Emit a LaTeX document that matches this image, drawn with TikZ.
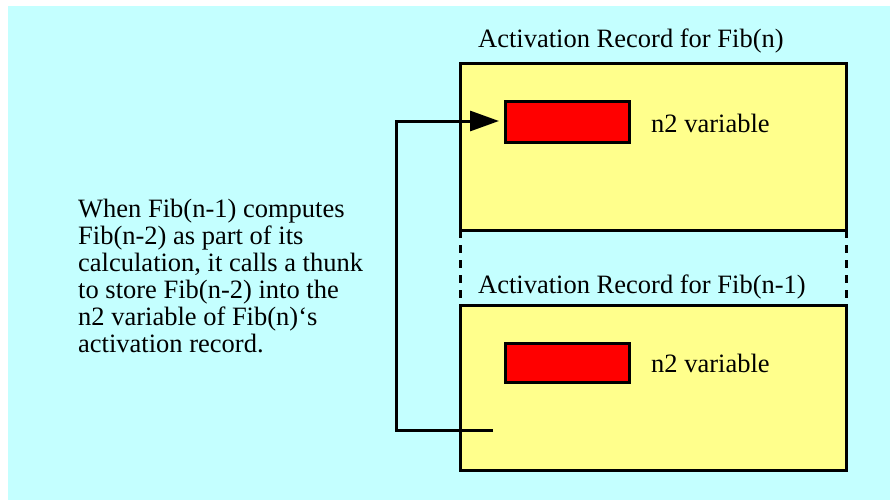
\documentclass[tikz,border=0pt]{standalone}
\usepackage{fontspec}
\setmainfont{Liberation Serif}
\usetikzlibrary{arrows.meta}
\definecolor{bgcyan}{HTML}{C4FFFF}
\definecolor{recyellow}{HTML}{FFFF8C}
\definecolor{varred}{HTML}{FF0000}
\tikzset{
  recbox/.style={draw=black, fill=recyellow, line width=3pt, inner sep=0pt, outer sep=0pt, minimum width=386pt, minimum height=166pt},
  varbox/.style={draw=black, fill=varred, line width=3pt, inner sep=0pt, outer sep=0pt, minimum width=124pt, minimum height=40pt},
  lbl/.style={font=\fontsize{26.5}{27}\selectfont, inner sep=0pt, anchor=base west},
  conn/.style={draw=black, line width=3pt},
  gapline/.style={draw=black, line width=3pt, dash pattern=on 8pt off 7pt},
}
\begin{document}
\begin{tikzpicture}[x=1pt,y=-1pt]
\useasboundingbox (0,0) rectangle (890,500);
\fill[bgcyan] (8,6) rectangle (890,500);
% activation records
\node[recbox] (rec1) at (653,147) {};
\node[recbox, minimum height=165pt] (rec2) at (653,387.5) {};
% dashed connection between records
\draw[gapline] (rec1.south west) -- (rec2.north west);
\draw[gapline] (rec1.south east) -- (rec2.north east);
% n2 variable boxes
\node[varbox] (var1) at (567,122) {};
\node[varbox, minimum height=39pt] (var2) at (567,362.5) {};
% labels
\node[lbl] (title1) at (478,48) {Activation Record for Fib(n)};
\node[lbl] (title2) at (478,293) {Activation Record for Fib(n-1)};
\node[lbl] (n2a) at (651,132) {n2 variable};
\node[lbl] (n2b) at (651,372) {n2 variable};
\node[lbl, align=left] (expl) at (78,352) {When Fib(n-1) computes\\Fib(n-2) as part of its\\calculation, it calls a thunk\\to store Fib(n-2) into the\\n2 variable of Fib(n)`s\\activation record.};
% thunk connector
\coordinate (thunk) at (493,430);
\coordinate (tip) at (499,121);
\draw[conn, -{Triangle[length=29pt,width=20pt]}] (thunk) -- (396,430) |- (tip);
\end{tikzpicture}
\end{document}
